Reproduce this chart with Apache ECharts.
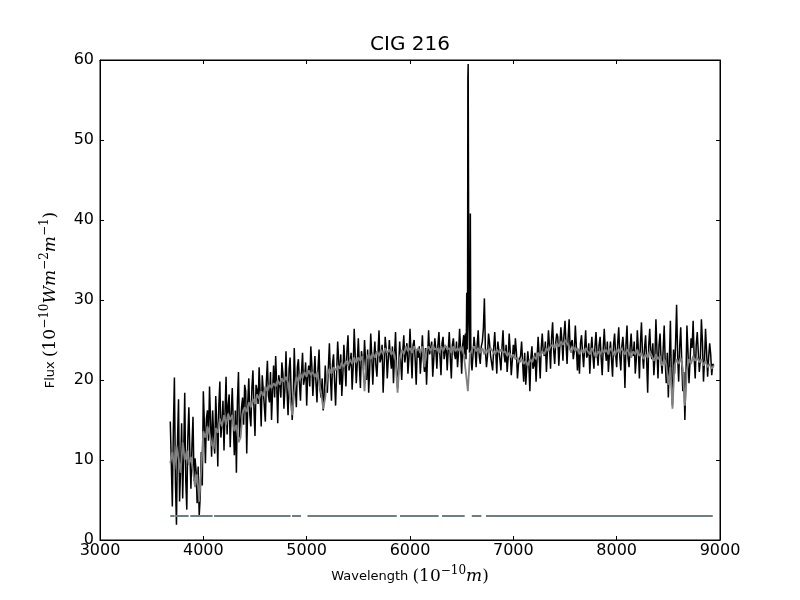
<!DOCTYPE html>
<html>
<head>
<meta http-equiv="Content-Type" content="text/html; charset=utf-8" />
<title>CIG 216</title>
<script src="https://cdn.jsdelivr.net/npm/echarts@6/dist/echarts.min.js"></script>
<style>
  html, body { margin: 0; padding: 0; background: #fff; }
  #main { width: 800px; height: 600px; }
</style>
</head>
<body>
<div id="main"></div>
<script type="text/javascript">
// spectrum read every 20 A from 3680 A, plus the in-between readings from 3690 A
var waveStart = 3680;
var waveStep = 20;
var waveStartMid = 3690;

// observed flux (black) at 3680, 3700, ...; null = taken from the finer H-alpha block
var fluxObserved = [
  14.8, 4.2, 20.3, 1.9, 17.6, 8.8, 5.2, 18.4, 3.8, 16.6,     // 3680-3860
  6.4, 15.4, 10.2, 4.6, 3.0, 11.0, 18.6, 9.6, 16.2, 19.2,    // 3880-4060
  10.4, 13.0, 18.0, 9.2, 19.8, 14.6, 11.2, 20.4, 16.8, 11.6, // 4080-4260
  19.0, 10.6, 8.4, 21.0, 12.6, 17.8, 19.4, 10.8, 20.2, 14.2, // 4280-4460
  21.2, 13.0, 18.8, 21.6, 14.2, 20.8, 14.8, 22.4, 17.2, 15.0, // 4480-4660
  21.8, 23.0, 14.6, 19.6, 22.2, 16.4, 23.6, 15.6, 22.8, 15.0, // 4680-4860
  24.0, 16.6, 22.6, 17.4, 23.4, 20.2, 16.8, 21.8, 24.2, 18.0, // 4880-5060
  23.0, 17.2, 23.8, 17.8, 16.2, 21.8, 18.4, 24.6, 17.4, 23.2, // 5080-5260
  16.8, 24.8, 19.4, 18.0, 24.4, 19.2, 25.6, 22.0, 18.8, 26.4, // 5280-5460
  19.6, 25.2, 19.0, 22.6, 25.0, 20.0, 18.4, 25.8, 19.4, 24.8, // 5480-5660
  20.4, 26.2, 22.8, 18.4, 25.4, 20.2, 25.0, 21.4, 19.6, 26.0, // 5680-5860
  19.0, 24.8, 20.0, 25.6, 23.4, 20.8, 26.4, 20.2, 25.0, 19.4, // 5880-6060
  22.8, 20.8, 25.6, 21.0, 19.4, 26.2, 24.0, 20.4, 25.2, 21.4, // 6080-6260
  26.0, 20.6, 25.4, 23.6, 21.2, 26.0, 20.2, 25.2, 22.6, 21.6, // 6280-6460
  26.4, 20.8, 25.6, null, null, null, 21.2, 25.4, 21.6, 26.2, // 6480-6660
  22.0, 24.8, 30.2, 21.6, 25.8, 23.0, 21.2, 26.0, 20.8, 24.6, // 6680-6860
  21.2, 26.2, 22.2, 21.0, 25.8, 20.6, 24.4, 25.2, 20.2, 22.6, // 6880-7060
  24.8, 19.8, 19.4, 23.6, 18.6, 24.2, 21.8, 19.8, 25.4, 20.2, // 7080-7260
  25.8, 23.0, 21.0, 26.2, 21.4, 27.2, 22.0, 25.8, 21.8, 26.6, // 7280-7460
  22.4, 27.4, 22.0, 27.6, 24.6, 22.6, 26.8, 21.2, 20.8, 25.6, // 7480-7660
  21.6, 26.2, 23.2, 20.8, 25.4, 21.4, 26.0, 21.8, 25.4, 20.6, // 7680-7860
  26.4, 22.4, 21.0, 24.8, 20.4, 25.8, 21.6, 26.6, 21.2, 25.4, // 7880-8060
  19.0, 26.8, 21.6, 25.8, 23.0, 20.8, 26.2, 20.2, 27.2, 21.4, // 8080-8260
  25.6, 18.4, 26.4, 22.6, 20.6, 27.6, 20.2, 25.8, 20.8, 26.8, // 8280-8460
  19.6, 17.8, 27.4, 16.8, 20.8, 29.4, 19.8, 26.6, 18.6, 15.0, // 8480-8660
  26.8, 19.6, 25.2, 27.4, 20.2, 26.0, 21.0, 27.6, 19.8, 26.4, // 8680-8860
  20.4, 24.6, 20.6, 21.8                                      // 8880-8940
];

// observed flux (black) at 3690, 3710, ...
var fluxObservedMid = [
  9.6, 13.8, 7.2, 12.4, 4.8, 14.6, 11.0, 7.4, 12.8, 10.6,     // 3690-3870
  11.8, 7.4, 8.6, 9.2, 5.4, 6.8, 14.6, 15.2, 12.4, 14.8,      // 3890-4070
  16.2, 10.8, 14.6, 16.8, 12.8, 17.4, 16.0, 13.2, 18.2, 15.8, // 4090-4270
  14.6, 16.2, 17.4, 12.8, 16.6, 14.4, 18.6, 17.2, 15.6, 19.0, // 4290-4470
  16.4, 19.4, 17.0, 18.2, 20.6, 16.8, 19.8, 18.0, 21.0, 18.6, // 4490-4670
  17.8, 19.4, 20.6, 17.8, 20.8, 19.0, 18.6, 21.4, 18.4, 17.6, // 4690-4870
  19.4, 21.6, 19.6, 21.0, 19.4, 22.2, 20.6, 19.2, 21.8, 20.4, // 4890-5070
  19.6, 21.4, 18.8, 20.2, 18.0, 19.4, 21.6, 20.4, 22.0, 19.8, // 5090-5270
  21.0, 22.4, 23.2, 20.6, 22.0, 23.6, 21.2, 23.4, 21.6, 23.0, // 5290-5470
  22.2, 21.8, 23.6, 21.2, 22.4, 23.8, 21.4, 23.0, 22.6, 21.8, // 5490-5670
  23.2, 22.2, 24.4, 21.8, 23.8, 22.6, 22.8, 24.2, 23.0, 21.6, // 5690-5870
  21.4, 22.4, 23.6, 22.2, 24.6, 22.8, 23.2, 24.4, 22.6, 23.8, // 5890-6070
  24.2, 23.0, 22.4, 24.0, 22.8, 23.2, 24.8, 22.6, 23.8, 24.4, // 6090-6270
  23.0, 24.6, 22.6, 24.2, 23.8, 22.8, 24.4, 23.2, 24.8, 23.4, // 6290-6470
  23.8, 24.4, null, null, null, null, 23.2, 23.8, 24.4, 23.0, // 6490-6670
  24.2, 26.4, 23.6, 23.0, 24.6, 22.8, 24.0, 23.4, 24.8, 22.6, // 6690-6870
  24.0, 23.2, 24.4, 22.8, 23.6, 22.4, 22.8, 23.4, 22.0, 23.0, // 6890-7070
  22.2, 23.4, 21.6, 22.0, 22.8, 21.4, 23.4, 22.8, 23.0, 24.0, // 7090-7270
  23.4, 24.8, 23.6, 24.2, 25.2, 23.8, 24.6, 25.4, 24.2, 25.0, // 7290-7470
  25.6, 24.4, 25.2, 23.8, 25.0, 23.6, 24.2, 23.8, 24.6, 23.4, // 7490-7670
  24.0, 22.8, 24.6, 23.6, 23.0, 24.2, 23.4, 24.4, 22.8, 24.0, // 7690-7870
  23.6, 24.8, 23.2, 22.6, 24.4, 23.2, 24.6, 23.0, 24.2, 23.6, // 7890-8070
  24.4, 22.8, 24.0, 23.4, 24.8, 22.6, 23.8, 24.6, 23.2, 24.0, // 8090-8270
  22.6, 24.2, 23.4, 24.6, 22.8, 23.6, 24.4, 22.4, 23.8, 22.2, // 8290-8470
  23.4, 22.6, 19.8, 23.8, 24.6, 23.0, 24.2, 22.2, 21.0, 20.2, // 8490-8670
  23.6, 22.4, 24.0, 22.8, 24.4, 23.4, 22.6, 24.8, 22.4, 23.6, // 8690-8870
  22.8, 23.2, 22.0                                            // 8890-8930
];

// H-alpha + [NII] emission, finer readings
var haWave = [6530, 6536, 6542, 6546, 6549, 6553, 6557, 6560, 6563, 6566, 6570, 6576, 6581, 6584, 6588, 6594];
var haFlux = [23.2, 25.8, 22.6, 26.4, 30.9, 23.8, 28.6, 57.8, 59.5, 45.6, 27.4, 23.4, 26.8, 40.8, 24.6, 22.2];

// model flux (grey) at 3680, 3700, ...
var fluxModel = [
  9.6, 11.0, 8.8, 11.8, 10.2, 8.4, 12.2, 10.0, 11.2, 9.4,
  10.4, 8.6, 6.6, 8.2, 4.8, 8.8, 13.6, 12.8, 14.2, 13.2,
  12.0, 11.4, 14.0, 13.4, 15.2, 14.2, 15.6, 14.4, 15.8, 15.0,
  15.6, 13.6, 14.4, 12.2, 12.8, 15.8, 16.6, 16.0, 17.2, 16.6,
  17.6, 17.0, 18.2, 17.6, 18.6, 18.0, 19.2, 18.6, 19.4, 19.0,
  19.6, 19.2, 20.0, 19.4, 20.2, 19.8, 20.4, 19.6, 17.6, 15.6,
  18.4, 20.4, 19.8, 20.8, 20.2, 21.0, 20.4, 21.2, 20.6, 21.0,
  20.4, 21.0, 19.6, 18.4, 16.4, 17.8, 20.6, 21.4, 20.8, 21.6,
  21.2, 21.8, 21.4, 22.2, 21.6, 22.4, 21.8, 22.6, 22.0, 22.8,
  22.2, 22.8, 22.4, 23.0, 18.6, 22.6, 23.2, 22.6, 23.4, 22.8,
  23.6, 23.0, 23.8, 23.2, 24.0, 23.4, 23.8, 23.2, 23.6, 22.4,
  18.4, 22.6, 23.8, 23.2, 24.2, 23.6, 24.0, 23.4, 24.2, 23.6,
  24.0, 23.4, 24.2, 21.6, 23.8, 24.2, 23.6, 24.4, 23.8, 24.0,
  23.4, 24.2, 23.6, 24.4, 23.8, 24.0, 23.4, 24.2, 23.6, 24.0,
  23.6, 24.2, 23.2, 21.0, 18.6, 23.2, 23.8, 24.2, 23.6, 24.0,
  23.4, 24.0, 23.2, 23.8, 23.4, 24.0, 23.6, 23.2, 23.8, 23.4,
  23.8, 23.4, 23.6, 23.0, 23.4, 22.8, 23.2, 22.6, 22.8, 22.2,
  22.6, 22.0, 22.4, 21.8, 22.6, 22.2, 23.0, 22.6, 23.4, 23.0,
  23.6, 23.2, 24.0, 23.6, 24.2, 24.4, 24.0, 24.6, 24.2, 24.8,
  24.4, 25.0, 24.6, 24.2, 23.4, 24.2, 23.6, 24.0, 23.2, 23.8,
  23.4, 24.0, 23.6, 23.2, 24.0, 23.4, 22.8, 23.6, 23.2, 23.8,
  23.4, 23.8, 23.2, 24.0, 23.6, 23.0, 23.8, 23.4, 24.0, 23.6,
  23.2, 23.8, 23.4, 22.8, 23.6, 23.2, 23.8, 23.0, 23.4, 22.6,
  23.2, 22.8, 23.6, 23.0, 22.4, 23.2, 22.6, 23.0, 21.8, 22.6,
  22.0, 19.4, 21.6, 16.4, 21.8, 22.6, 22.0, 22.8, 21.4, 16.8,
  21.2, 22.6, 22.0, 23.0, 22.4, 22.8, 22.2, 22.6, 21.8, 22.4,
  21.6, 22.0, 21.4, 21.8
];

// good-pixel mask drawn at flux 3, gaps at the masked lines
var maskLevel = 3;
var maskRanges = [
  [3680, 3722], [3736, 3858], [3874, 4090], [4104, 4844], [4858, 4945],
  [5008, 5872], [5903, 6277], [6310, 6529], [6598, 6691], [6735, 8930]
];

var xTicks = [3000, 4000, 5000, 6000, 7000, 8000, 9000];
var yTicks = [0, 10, 20, 30, 40, 50, 60];

var observedData = [];
fluxObserved.forEach(function (v, i) {
  if (v !== null) observedData.push([waveStart + i * waveStep, v]);
});
fluxObservedMid.forEach(function (v, i) {
  if (v !== null) observedData.push([waveStartMid + i * waveStep, v]);
});
haWave.forEach(function (w, i) { observedData.push([w, haFlux[i]]); });
observedData.sort(function (a, b) { return a[0] - b[0]; });

var modelData = fluxModel.map(function (v, i) { return [waveStart + i * waveStep, v]; });

var maskData = [];
maskRanges.forEach(function (r, i) {
  if (i > 0) maskData.push([r[0], '-']);
  maskData.push([r[0], maskLevel], [r[1], maskLevel]);
});

var font = 'DejaVu Sans';
var mathFont = 'DejaVu Serif';
var mathRich = {
  m: { fontFamily: mathFont, fontSize: 17, lineHeight: 24, color: '#000' },
  i: { fontFamily: mathFont, fontStyle: 'italic', fontSize: 17, lineHeight: 24, color: '#000' },
  s: { fontFamily: mathFont, fontSize: 12, lineHeight: 14, verticalAlign: 'top', color: '#000' }
};

function axisBase(pos, ticks, show) {
  return {
    type: 'value',
    position: pos,
    min: ticks[0],
    max: ticks[ticks.length - 1],
    interval: ticks[1] - ticks[0],
    axisLine: { show: true, onZero: false, lineStyle: { color: '#000', width: 1 } },
    axisTick: { show: true, inside: true, length: 4, lineStyle: { color: '#000', width: 1 } },
    axisLabel: {
      show: show, color: '#000', fontSize: 16, fontFamily: font,
      formatter: function (v) { return String(v); }
    },
    splitLine: { show: false }
  };
}

var xBottom = axisBase('bottom', xTicks, true);
xBottom.axisLabel.margin = 3;
xBottom.name = 'Wavelength {m|(10}{s|\u221210}{i|m}{m|)}';
xBottom.nameLocation = 'middle';
xBottom.nameGap = 25;
xBottom.nameTextStyle = { color: '#000', fontSize: 13, fontFamily: font, lineHeight: 24, rich: mathRich };

var yLeft = axisBase('left', yTicks, true);
yLeft.axisLabel.margin = 6;
yLeft.name = 'Flux {m|(10}{s|\u221210}{i|Wm}{s|\u22122}{i|m}{s|\u22121}{m|)}';
yLeft.nameLocation = 'middle';
yLeft.nameGap = 28;
yLeft.nameTextStyle = { color: '#000', fontSize: 13, fontFamily: font, lineHeight: 24, rich: mathRich };

var chart = echarts.init(document.getElementById('main'));
chart.setOption({
  animation: false,
  backgroundColor: '#fff',
  title: {
    text: 'CIG 216',
    left: 410,
    top: 35,
    padding: 0,
    textAlign: 'center',
    textStyle: { color: '#000', fontSize: 20, fontWeight: 'normal', fontFamily: font }
  },
  grid: { left: 100, right: 80, top: 60, bottom: 60, show: true, borderColor: '#000', borderWidth: 1, backgroundColor: '#fff' },
  xAxis: [xBottom, axisBase('top', xTicks, false)],
  yAxis: [yLeft, axisBase('right', yTicks, false)],
  series: [
    {
      name: 'observed', type: 'line', data: observedData, showSymbol: false, z: 2,
      lineStyle: { color: '#000', width: 1.5 }, itemStyle: { color: '#000' }
    },
    {
      name: 'model', type: 'line', data: modelData, showSymbol: false, z: 3,
      lineStyle: { color: '#808080', width: 1.8 }, itemStyle: { color: '#808080' }
    },
    {
      name: 'mask', type: 'line', data: maskData, showSymbol: false, connectNulls: false, z: 4,
      lineStyle: { color: '#6f7d84', width: 2 }, itemStyle: { color: '#6f7d84' }
    }
  ]
});
</script>
</body>
</html>
